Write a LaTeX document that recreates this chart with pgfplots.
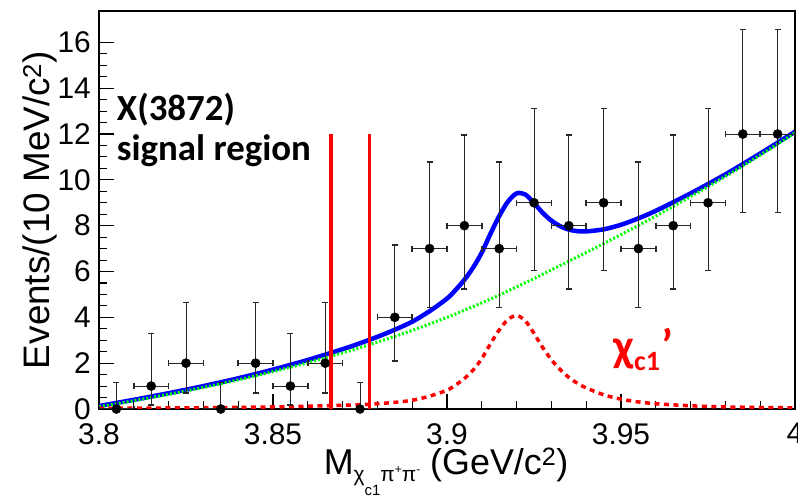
\documentclass[border=0pt]{standalone}
\usepackage{fontspec}
\setmainfont{Liberation Sans}
\newfontfamily\carlito{Carlito}
\usepackage{pgfplots}
\usepackage{pgfplotstable}
\pgfplotsset{compat=1.18}

\definecolor{fitblue}{RGB}{0,0,255}
\definecolor{bkggreen}{RGB}{0,255,0}
\definecolor{sigred}{RGB}{255,0,0}
\definecolor{errgray}{RGB}{40,40,40}

% binned data: centre, counts, half bin width, Poisson errors (+/-)
\pgfplotstableread{
x      n   ex     eplus  eminus
3.805  0   0.005  1.148  0
3.815  1   0.005  2.300  0.827
3.825  2   0.005  2.638  1.292
3.835  0   0.005  1.148  0
3.845  2   0.005  2.638  1.292
3.855  1   0.005  2.300  0.827
3.865  2   0.005  2.638  1.292
3.875  0   0.005  1.148  0
3.885  4   0.005  3.163  1.914
3.895  7   0.005  3.770  2.581
3.905  8   0.005  3.950  2.768
3.915  7   0.005  3.770  2.581
3.925  9   0.005  4.110  2.945
3.935  8   0.005  3.950  2.768
3.945  9   0.005  4.110  2.945
3.955  7   0.005  3.770  2.581
3.965  8   0.005  3.950  2.768
3.975  9   0.005  4.110  2.945
3.985  12  0.005  4.570  3.426
3.995  12  0.005  4.570  3.426
}\datatable

% fit components: background, chi_c1' signal, total
\pgfplotstableread{
x       bkg    sig    tot
3.800   0.10   0.030  0.13
3.810   0.36   0.035  0.40
3.820   0.64   0.045  0.69
3.830   0.94   0.055  1.00
3.840   1.27   0.070  1.34
3.850   1.63   0.090  1.72
3.860   2.02   0.120  2.14
3.870   2.45   0.160  2.61
3.875   2.68   0.190  2.87
3.880   2.92   0.230  3.15
3.885   3.17   0.290  3.46
3.890   3.43   0.380  3.81
3.895   3.71   0.560  4.27
3.900   4.00   0.820  4.82
3.9025  4.15   1.050  5.20
3.905   4.31   1.330  5.64
3.9075  4.47   1.700  6.17
3.910   4.63   2.200  6.83
3.9125  4.80   2.850  7.65
3.915   4.97   3.450  8.42
3.9175  5.15   3.900  9.05
3.920   5.33   4.080  9.41
3.9225  5.51   3.850  9.36
3.925   5.69   3.300  8.99
3.9275  5.88   2.680  8.56
3.930   6.07   2.150  8.22
3.9325  6.26   1.720  7.98
3.935   6.45   1.380  7.83
3.9375  6.64   1.120  7.76
3.940   6.83   0.920  7.75
3.945   7.22   0.620  7.84
3.950   7.61   0.430  8.04
3.955   8.01   0.310  8.32
3.960   8.42   0.230  8.65
3.970   9.27   0.140  9.41
3.980   10.15  0.090  10.24
3.990   11.08  0.065  11.15
4.000   12.05  0.050  12.10
}\fittable

\begin{document}
\begin{tikzpicture}[x=1bp,y=1bp]
\begin{axis}[
  at={(0,0)}, anchor=south west,
  scale only axis, width=696bp, height=398bp,
  xmin=3.8, xmax=4.0, ymin=0, ymax=17.37,
  xtick={3.8,3.85,3.9,3.95,4.0},
  xticklabels={3.8,3.85,3.9,3.95,4},
  ytick={0,2,4,6,8,10,12,14,16},
  yticklabels={0,2,4,6,8,10,12,14,16},
  minor x tick num=4, minor y tick num=3,
  tick align=inside, xtick pos=bottom, ytick pos=left,
  major tick length=15bp, minor tick length=8bp,
  tick style={line width=1.1bp, black},
  axis line style={line width=1.3bp, black},
  tick label style={font=\fontsize{30}{36}\selectfont, inner sep=0pt},
  xticklabel style={anchor=north, yshift=-14bp},
  yticklabel style={anchor=east, xshift=-8bp},
]
% fit curves
\addplot[fitblue, line width=4.5bp, smooth, tension=0.5] table[x=x, y=tot] {\fittable};
\addplot[bkggreen, line width=3bp, dash pattern=on 2bp off 2bp, smooth, tension=0.5] table[x=x, y=bkg] {\fittable};
\addplot[sigred, line width=3.5bp, dash pattern=on 5bp off 4.5bp, smooth, tension=0.5] table[x=x, y=sig] {\fittable};

% data with asymmetric Poisson errors
\addplot[black, only marks, mark=*, mark size=4.6bp, mark options={fill=black},
  error bars/.cd, x dir=both, x explicit, y dir=both, y explicit,
  error mark=|,
  error bar style={line width=1bp, errgray},
  error mark options={errgray, mark size=3bp, line width=1.5bp}]
  table[x=x, y=n, x error=ex, y error plus=eplus, y error minus=eminus] {\datatable};

% X(3872) signal window
\addplot[sigred, line width=3.5bp] coordinates {(3.8667,0) (3.8667,12)};
\addplot[sigred, line width=3.5bp] coordinates {(3.8777,0) (3.8777,12)};

\node[anchor=base west, inner sep=0pt, font=\carlito\bfseries\fontsize{37}{44}\selectfont]
  at (axis cs:3.8051,12.6) {X(3872)};
\node[anchor=base west, inner sep=0pt, font=\carlito\bfseries\fontsize{37}{44}\selectfont]
  at (axis cs:3.8051,10.86) {signal region};
\node[anchor=base west, inner sep=0pt, text=sigred, font=\carlito\bfseries\fontsize{46}{54}\selectfont]
  at (axis cs:3.9478,2.08) {χ\raisebox{-9bp}{\fontsize{28}{33}\selectfont c1}\kern1bp’};
\end{axis}

% axis titles
\node[anchor=base, inner sep=0pt, font=\fontsize{36}{43}\selectfont] at (347,-65.7)
  {M\raisebox{-7bp}{\fontsize{21}{25}\selectfont χ\raisebox{-14bp}{\fontsize{15}{18}\selectfont c1}π\raisebox{8bp}{\fontsize{12}{14}\selectfont +}π\raisebox{8bp}{\fontsize{12}{14}\selectfont -}} (GeV/c\textsuperscript{2})};
\node[anchor=base, rotate=90, inner sep=0pt, font=\fontsize{37}{44}\selectfont] at (-49,199)
  {Events/(10 MeV/c\textsuperscript{2})};

\pgfresetboundingbox
\path[use as bounding box] (-99,-89) rectangle (699,409);
\end{tikzpicture}
\end{document}
